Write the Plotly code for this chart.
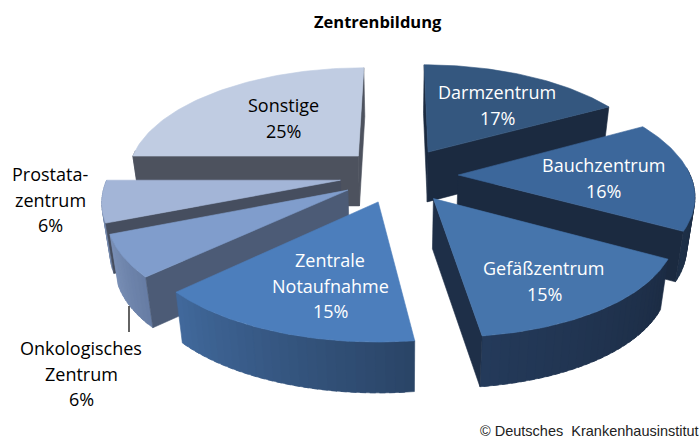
import math
import plotly.graph_objects as go

# --- data ---
categories = ["Darmzentrum", "Bauchzentrum", "Gefäßzentrum", "Zentrale Notaufnahme",
              "Onkologisches Zentrum", "Prostatazentrum", "Sonstige"]
values = [17, 16, 15, 15, 6, 6, 25]
title_text = "Zentrenbildung"
credit_text = "© Deutsches  Krankenhausinstitut"

top_colors = ["#34577F", "#3C679B", "#4675AC", "#4C7EBC", "#809DCC", "#A3B5D7", "#C0CCE2"]
radial_wall_colors = ["#1B2A40", "#1B2A40", "#1E2F48", "#2A4468", "#4C5B76", "#464E5F", "#4D525E"]
outer_wall_left = ["#1B2A40", "#1F3048", "#243A5A", "#41699C", "#7A90B6", "#8095B8", "#5A6070"]
outer_wall_right = ["#1B2A40", "#1B2A40", "#1C2C44", "#2A4466", "#667CA4", "#6E82A6", "#5A6070"]
label_colors = ["white", "white", "white", "white", "black", "black", "black"]
label_lines = [["Darmzentrum", "17%"], ["Bauchzentrum", "16%"], ["Gefäßzentrum", "15%"],
               ["Zentrale", "Notaufnahme", "15%"], ["Onkologisches", "Zentrum", "6%"],
               ["Prostata-", "zentrum", "6%"], ["Sonstige", "25%"]]
label_xy = [(497, 92), (603, 165), (544, 268), (330, 260), (81, 348), (50, 174), (283, 105)]
draw_order = [6, 0, 5, 4, 1, 2, 3]

# --- projection of the 3D pie ---
CX, CY, AX, BY_, K, DEPTH, EXPLODE, SHRINK = 399, 175, 232, 108, 0.16, 50, 0.255, 0.028


def project(x, y, z=0.0):
    s = 1 / (1 - K * y)
    f = 1 - SHRINK * z
    front = max(y - 0.5, 0)
    sx = s * (1 + 0.036 * front)
    return (CX + AX * x * sx * f + 5.7 * front,
            CY + BY_ * y * s * f + DEPTH * z / (1 - 0.08 * y))


def hex2rgb(h):
    return tuple(int(h[i:i + 2], 16) for i in (1, 3, 5))


def mix(a, b, t):
    ra, rb = hex2rgb(a), hex2rgb(b)
    return "rgb(%d,%d,%d)" % tuple(round(ra[i] + (rb[i] - ra[i]) * t) for i in range(3))


fig = go.Figure()


def poly(pts, color):
    xs = [p[0] for p in pts] + [pts[0][0]]
    ys = [p[1] for p in pts] + [pts[0][1]]
    fig.add_trace(go.Scatter(x=xs, y=ys, mode="lines", fill="toself", fillcolor=color,
                             line=dict(color=color, width=0.6), hoverinfo="skip", showlegend=False))


total = sum(values)
starts = [sum(values[:i]) / total * 2 * math.pi for i in range(len(values))]
ends = [sum(values[:i + 1]) / total * 2 * math.pi for i in range(len(values))]

for i in draw_order:
    a0, a1 = starts[i], ends[i]
    mid = (a0 + a1) / 2
    ox, oy = EXPLODE * math.sin(mid), -EXPLODE * math.cos(mid)
    rim = lambda a: (ox + math.sin(a), oy - math.cos(a))
    # outer wall, shaded from left to right on screen
    n = max(6, int((a1 - a0) * 30))
    for j in range(n):
        b0 = a0 + (a1 - a0) * j / n
        b1 = a0 + (a1 - a0) * (j + 1.6) / n
        b1 = min(b1, a1)
        if math.cos((b0 + b1) / 2) > 0.05:
            continue
        p0, p1 = rim(b0), rim(b1)
        u = (j + 0.5) / n              # runs clockwise: right to left along the front
        poly([project(*p0), project(*p1), project(*p1, 1), project(*p0, 1)],
             mix(outer_wall_right[i], outer_wall_left[i], u))
    # radial walls that face the viewer
    if math.sin(a0) < 0.001:
        p = rim(a0)
        poly([project(ox, oy), project(*p), project(*p, 1), project(ox, oy, 1)], radial_wall_colors[i])
    if math.sin(a1) > -0.001:
        p = rim(a1)
        poly([project(ox, oy), project(*p), project(*p, 1), project(ox, oy, 1)], radial_wall_colors[i])
    # top face
    pts = [project(ox, oy)]
    m = 60
    for j in range(m + 1):
        pts.append(project(*rim(a0 + (a1 - a0) * j / m)))
    poly(pts, top_colors[i])

# leader line for the outside label
fig.add_trace(go.Scatter(x=[129, 129], y=[306, 332], mode="lines", line=dict(color="#222222", width=1.4),
                         hoverinfo="skip", showlegend=False))

FONT = "Open Sans"
LINE_H = 25.5
for i, lines in enumerate(label_lines):
    lx, ly = label_xy[i]
    for k, line in enumerate(lines):
        fig.add_annotation(x=lx, y=ly + k * LINE_H, text=line, showarrow=False,
                           font=dict(family=FONT, size=18, color=label_colors[i]),
                           xanchor="center", yanchor="middle")

fig.add_annotation(x=378, y=21, text=f"<b>{title_text}</b>", showarrow=False,
                   font=dict(family=FONT, size=16.5, color="black"), xanchor="center", yanchor="middle")
fig.add_annotation(x=478, y=431, text=credit_text, showarrow=False,
                   font=dict(family="Liberation Sans", size=14.5, color="#222222"), xanchor="left", yanchor="middle")

fig.update_layout(width=700, height=445, margin=dict(l=0, r=0, t=0, b=0),
                  paper_bgcolor="white", plot_bgcolor="white",
                  xaxis=dict(range=[0, 700], visible=False, fixedrange=True),
                  yaxis=dict(range=[445, 0], visible=False, fixedrange=True))
fig.write_html("out.html", config=dict(displayModeBar=False), post_script="document.body.style.margin='0';")
